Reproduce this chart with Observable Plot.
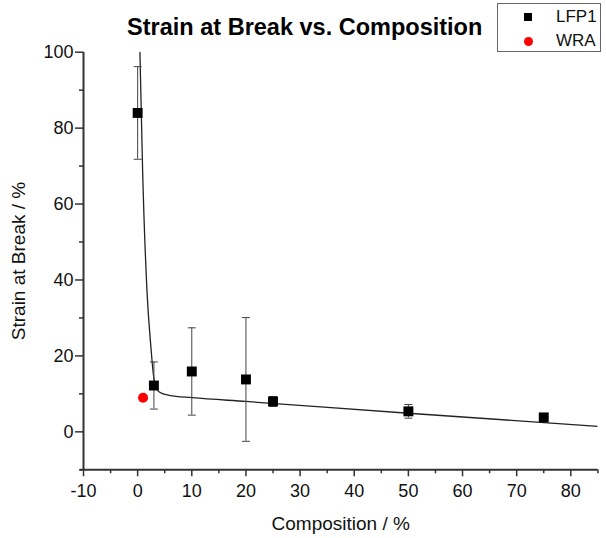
<!DOCTYPE html>
<html>
<head>
<meta charset="utf-8">
<script src="https://cdn.jsdelivr.net/npm/d3@7"></script>
<script src="https://cdn.jsdelivr.net/npm/@observablehq/plot@0.6"></script>
<style>
  html, body { margin: 0; padding: 0; background: #fff; }
  #wrap { position: relative; width: 606px; height: 538px; overflow: hidden; }
  #legend { position: absolute; left: 497px; top: 3px; width: 104px; height: 49px; border: 1px solid #666; background: #fff;
            font-family: "Liberation Sans", Arial, sans-serif; font-size: 17px; color: #111; box-sizing: border-box; }
  .li { position: absolute; left: 0; height: 20px; line-height: 20px; }
  .sw { position: absolute; left: 26px; top: 6px; width: 8px; height: 8px; }
  .lt { position: absolute; left: 58px; top: 0; }
</style>
</head>
<body>
<div id="wrap">
  <div id="chart"></div>
  <div id="legend">
    <div class="li" style="top:3px;width:100px"><div class="sw" style="background:#000"></div><div class="lt">LFP1</div></div>
    <div class="li" style="top:27px;width:100px"><div class="sw" style="background:#f00;border-radius:50%;width:9px;height:9px"></div><div class="lt">WRA</div></div>
  </div>
</div>
<script>
// LFP1 measured points
const lfpComposition = [0, 3, 10, 20, 25, 50, 75];
const lfpStrain      = [84, 12.2, 15.9, 13.8, 8.0, 5.4, 3.8];
const lfpError       = [12.2, 6.2, 11.5, 16.3, 1.3, 1.8, 0.6];
// WRA point
const wraComposition = [1];
const wraStrain      = [9.0];
// fitted curve
const fitComposition = [0.42, 0.92, 1.72, 2.45, 3.06, 3.99, 5.83, 10.1, 20, 50, 85];
const fitStrain      = [100, 68.8, 37.2, 22.3, 13.6, 10.5, 9.6, 9.0, 8.0, 4.9, 1.45];
// ticks
const xTicks = [-10, 0, 10, 20, 30, 40, 50, 60, 70, 80];
const xMinor = [-5, 5, 15, 25, 35, 45, 55, 65, 75, 85];
const yTicks = [0, 20, 40, 60, 80, 100];
const yMinor = [-10, 10, 30, 50, 70, 90];

const lfp = lfpComposition.map((x, i) => ({x, y: lfpStrain[i], e: lfpError[i]}));
const wra = wraComposition.map((x, i) => ({x, y: wraStrain[i]}));
const fit = fitComposition.map((x, i) => ({x, y: fitStrain[i]}));

const cap = { draw(ctx) { ctx.moveTo(-4, 0); ctx.lineTo(4, 0); } };
const font = "Liberation Sans, Arial, sans-serif";
const fmt = d => String(d);

const chart = Plot.plot({
  width: 606,
  height: 538,
  marginLeft: 83,
  marginRight: 8.6,
  marginTop: 51.7,
  marginBottom: 68.7,
  style: { fontFamily: font, fontSize: "18px", color: "#111", background: "#fff", overflow: "visible" },
  x: { domain: [-10, 85] },
  y: { domain: [-10, 100] },
  marks: [
    Plot.axisX({ ticks: xMinor, tickSize: 4, text: null, stroke: "#333", strokeWidth: 1.5, label: null }),
    Plot.axisY({ ticks: yMinor, tickSize: 4, text: null, stroke: "#333", strokeWidth: 1.5, label: null }),
    Plot.axisX({ ticks: xTicks, tickSize: 7, tickPadding: 7, tickFormat: fmt, stroke: "#333", strokeWidth: 1.5, label: null, fontSize: 18 }),
    Plot.axisY({ ticks: yTicks, tickSize: 8, tickPadding: 2, tickFormat: fmt, stroke: "#333", strokeWidth: 1.5, label: null, fontSize: 18 }),
    Plot.ruleY([-10], { stroke: "#333", strokeWidth: 2, insetLeft: -3 }),
    Plot.ruleX([-10], { stroke: "#333", strokeWidth: 2 }),
    Plot.line(fit, { x: "x", y: "y", curve: "monotone-x", stroke: "#222", strokeWidth: 1.3, clip: true }),
    Plot.ruleX(lfp, { x: "x", y1: d => d.y - d.e, y2: d => d.y + d.e, stroke: "#444", strokeWidth: 1 }),
    Plot.dot(lfp, { x: "x", y: d => d.y - d.e, symbol: cap, stroke: "#444", strokeWidth: 1, fill: "none" }),
    Plot.dot(lfp, { x: "x", y: d => d.y + d.e, symbol: cap, stroke: "#444", strokeWidth: 1, fill: "none" }),
    Plot.dot(lfp, { x: "x", y: "y", symbol: "square", r: 5.6, fill: "#000", stroke: "none" }),
    Plot.dot(wra, { x: "x", y: "y", symbol: "circle", r: 5, fill: "#f00", stroke: "none" }),
    Plot.text(["Strain at Break vs. Composition"], { frameAnchor: "top", lineAnchor: "middle", dx: -36, dy: -25, fontSize: 23.5, fontWeight: "bold", fill: "#000" }),
    Plot.text(["Composition / %"], { frameAnchor: "bottom", lineAnchor: "middle", textAnchor: "middle", dy: 54, fontSize: 19, fill: "#111" }),
    Plot.text(["Strain at Break / %"], { frameAnchor: "left", lineAnchor: "middle", textAnchor: "middle", rotate: -90, dx: -65, fontSize: 19, fill: "#111" })
  ]
});
document.getElementById("chart").appendChild(chart);
</script>
</body>
</html>
